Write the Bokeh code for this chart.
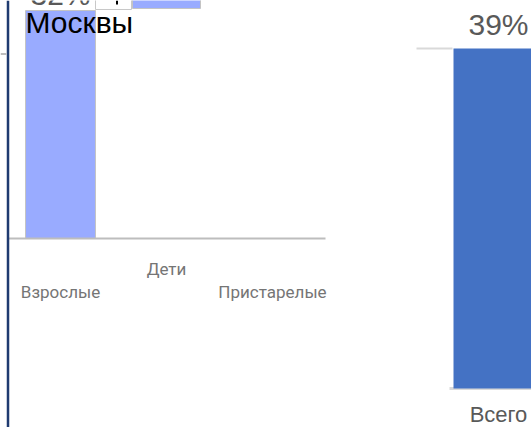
import numpy as np
from bokeh.plotting import figure
from bokeh.models import Range1d
from bokeh.core.properties import value
from bokeh.embed import file_html
from bokeh.resources import INLINE

# ---- data ----
left_categories = ["Взрослые", "Дети", "Пристарелые"]
left_values = [32, None, None]
left_value_labels = ["32%", "", ""]

right_categories = ["Всего"]
right_values = [39]
right_value_labels = ["39%"]

title_fragment = "Москвы"

W, H = 531, 427

# left panel scales: category i centred at 60 + 106*i px, value 0 at 238 px from top, 32 at 10 px
lx_px_per = 106.0
lx_start = -60.0 / lx_px_per
ly_px_per = (238 - 10) / 32.0
ly_start = -(H - 238) / ly_px_per

# right panel scales: category centred at 498 px, value 0 at 388 px, 39 at 48 px
rx_px_per = 100.0
rx_start = -498.0 / rx_px_per
ry_px_per = (388 - 48) / 39.0
ry_start = -(H - 388) / ry_px_per

p = figure(width=W, height=H, output_backend="svg", toolbar_location=None,
           x_range=Range1d(lx_start, lx_start + W / lx_px_per),
           y_range=Range1d(ly_start, ly_start + H / ly_px_per),
           x_axis_location=None, y_axis_location=None,
           min_border=0, outline_line_color=None, background_fill_color="white")
p.xgrid.visible = False
p.ygrid.visible = False
p.extra_x_ranges = {"r": Range1d(rx_start, rx_start + W / rx_px_per), "px": Range1d(0, W)}
p.extra_y_ranges = {"r": Range1d(ry_start, ry_start + H / ry_px_per), "px": Range1d(H, 0)}

# ---- left panel ----
lx = [i for i, v in enumerate(left_values) if v is not None]
lv = [v for v in left_values if v is not None]
p.vbar(x=lx, top=lv, bottom=0, width=0.66, fill_color="#99ABFF", line_color="#C4C4C4", line_width=1)
p.segment(x0=[8 / lx_px_per + lx_start], y0=[0], x1=[325 / lx_px_per + lx_start], y1=[0],
          line_color="#BDBDBD", line_width=2)
for i, (v, lab) in enumerate(zip(left_values, left_value_labels)):
    if v is not None and lab:
        p.text(x=[i], y=[v], text=[lab], text_align="center", text_baseline="alphabetic",
               y_offset=-16, text_font=value("Liberation Sans"), text_font_size="30px",
               text_color="#595959")
for i, c in enumerate(left_categories):
    off = 53 if i % 2 == 0 else 30
    p.text(x=[i], y=[0], text=[c], text_align="center", text_baseline="alphabetic",
           y_offset=off, text_font=value("Roboto"), text_font_size="17px", text_color="#757575")

# cropped overlapping elements at top
p.quad(left=[132], right=[200], top=[-5], bottom=[8], fill_color="#99ABFF", line_color="#C4C4C4",
       x_range_name="px", y_range_name="px")
p.quad(left=[95], right=[131], top=[-5], bottom=[9], fill_color="white", line_color="#C8C8C8",
       x_range_name="px", y_range_name="px")
p.segment(x0=[116.5], y0=[0], x1=[116.5], y1=[4], line_color="black", line_width=2,
          x_range_name="px", y_range_name="px")
p.text(x=[25], y=[22], text=[title_fragment], text_baseline="alphabetic", text_align="left",
       text_font=value("Liberation Sans"), text_font_size="30px", text_color="black",
       x_range_name="px", y_range_name="px")

# ---- right panel ----
p.segment(x0=[(416 - 498) / rx_px_per], y0=[right_values[0]], x1=[(452 - 498) / rx_px_per], y1=[right_values[0]],
          line_color="#D9D9D9", line_width=2, x_range_name="r", y_range_name="r")
p.segment(x0=[(449 - 498) / rx_px_per], y0=[0], x1=[(540 - 498) / rx_px_per], y1=[0],
          line_color="#D9D9D9", line_width=3, x_range_name="r", y_range_name="r")
p.vbar(x=list(range(len(right_values))), top=right_values, bottom=0, width=0.9,
       fill_color="#4472C4", line_color=None, x_range_name="r", y_range_name="r")
p.text(x=list(range(len(right_values))), y=right_values, text=right_value_labels,
       text_align="center", text_baseline="alphabetic", y_offset=-24,
       text_font=value("Liberation Sans"), text_font_size="30px", text_color="#595959",
       x_range_name="r", y_range_name="r")
p.text(x=list(range(len(right_categories))), y=[0] * len(right_categories), text=right_categories,
       text_align="center", text_baseline="alphabetic", y_offset=26,
       text_font=value("Liberation Sans"), text_font_size="22px", text_color="#595959",
       x_range_name="r", y_range_name="r")

# ---- frame decorations ----
p.segment(x0=[7.5], y0=[0], x1=[7.5], y1=[H], line_color="#1F3B70", line_width=2.5,
          x_range_name="px", y_range_name="px")
p.segment(x0=[0], y0=[53.5], x1=[6], y1=[53.5], line_color="#BDBDBD", line_width=2,
          x_range_name="px", y_range_name="px")

open("out.html", "w").write(file_html(p, INLINE))
